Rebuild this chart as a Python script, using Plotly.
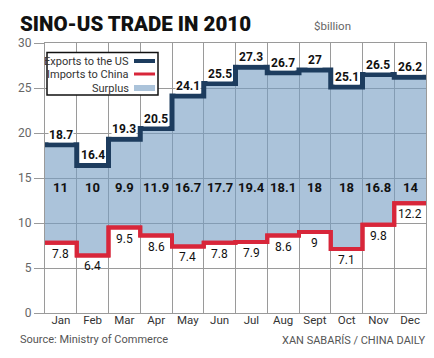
import plotly.graph_objects as go

months = ["Jan", "Feb", "Mar", "Apr", "May", "Jun", "Jul", "Aug", "Sept", "Oct", "Nov", "Dec"]
exports_us = [18.7, 16.4, 19.3, 20.5, 24.1, 25.5, 27.3, 26.7, 27, 25.1, 26.5, 26.2]
imports_cn = [7.8, 6.4, 9.5, 8.6, 7.4, 7.8, 7.9, 8.6, 9, 7.1, 9.8, 12.2]
surplus = [11, 10, 9.9, 11.9, 16.7, 17.7, 19.4, 18.1, 18, 18, 16.8, 14]
y_ticks = [0, 5, 10, 15, 20, 25, 30]

W, H = 434, 358
L, R, T, B = 45, 8, 43, 45
PW, PH = W - L - R, H - T - B

def px(x):
    return (x - L) / PW

def py(y):
    return (H - B - y) / PH

NAVY = "#1d3c5e"
RED = "#d8263a"
FILL = "rgba(120,158,196,0.62)"
GRID = "#9a9a9a"
FONT = "Roboto"

n = len(months)
xs = list(range(n + 1))
exp_y = exports_us + [exports_us[-1]]
imp_y = imports_cn + [imports_cn[-1]]

fig = go.Figure()
fig.add_trace(go.Scatter(x=xs, y=imp_y, mode="lines", line=dict(color=RED, width=4, shape="hv"),
                         name="Imports to China", showlegend=False, hoverinfo="skip"))
fig.add_trace(go.Scatter(x=xs, y=exp_y, mode="lines", line=dict(color=NAVY, width=5, shape="hv"),
                         fill="tonexty", fillcolor=FILL, name="Exports to the US",
                         showlegend=False, hoverinfo="skip"))
fig.add_trace(go.Scatter(x=xs, y=imp_y, mode="lines", line=dict(color=RED, width=4, shape="hv"),
                         showlegend=False, hoverinfo="skip"))

ann = []
for i, m in enumerate(months):
    xc = i + 0.5
    ann.append(dict(x=xc, y=exports_us[i], xref="x", yref="y", text=f"<b>{exports_us[i]:g}</b>",
                    showarrow=False, yanchor="bottom", yshift=2, bgcolor="white", borderpad=0,
                    font=dict(family=FONT, size=12, color="#111")))
    ann.append(dict(x=xc, y=imports_cn[i], xref="x", yref="y", text=f"{imports_cn[i]:g}",
                    showarrow=False, yanchor="top", yshift=-2,
                    font=dict(family=FONT, size=12, color="#111")))
    ann.append(dict(x=xc, y=14, xref="x", yref="y", text=f"<b>{surplus[i]:g}</b>",
                    showarrow=False, yanchor="middle",
                    font=dict(family=FONT, size=13, color="#111", weight=900)))

ann.append(dict(x=px(312), y=py(26), xref="paper", yref="paper", text="$billion", showarrow=False,
                xanchor="left", yanchor="middle", font=dict(family=FONT, size=11.5, color="#666")))
ann.append(dict(x=px(18), y=py(339), xref="paper", yref="paper", text="Source: Ministry of Commerce",
                showarrow=False, xanchor="left", yanchor="middle", font=dict(family=FONT, size=11, color="#555")))
ann.append(dict(x=px(427), y=py(340), xref="paper", yref="paper", text="XAN SABARÍS / CHINA DAILY",
                showarrow=False, xanchor="right", yanchor="middle", font=dict(family=FONT, size=11, color="#555")))

shapes = [dict(type="rect", xref="paper", yref="paper", x0=px(47), x1=px(158), y0=py(95), y1=py(52.5),
               line=dict(color="#111", width=1.5), fillcolor="white", layer="above")]
leg = [("Exports to the US", 61, dict(color=NAVY, width=4)),
       ("Imports to China", 74, dict(color=RED, width=3)),
       ("Surplus", 88, None)]
for label, yy, ln in leg:
    ann.append(dict(x=px(131), y=py(yy), xref="paper", yref="paper", text=label, showarrow=False,
                    xanchor="right", yanchor="middle", font=dict(family=FONT, size=11, color="#333")))
    if ln is not None:
        shapes.append(dict(type="line", xref="paper", yref="paper", x0=px(134), x1=px(155),
                           y0=py(yy), y1=py(yy), line=ln, layer="above"))
    else:
        shapes.append(dict(type="rect", xref="paper", yref="paper", x0=px(134), x1=px(155),
                           y0=py(yy + 3), y1=py(yy - 3), line=dict(width=0),
                           fillcolor="#abc3da", layer="above"))

fig.update_layout(
    width=W, height=H,
    margin=dict(l=L, r=R, t=T, b=B),
    paper_bgcolor="white", plot_bgcolor="white",
    title=dict(text="SINO-US TRADE IN 2010", xref="container", yref="container",
               x=20 / W, y=1 - 24 / H, xanchor="left", yanchor="middle",
               font=dict(family=FONT, size=20.5, color="#111", weight=900)),
    annotations=ann, shapes=shapes,
    xaxis=dict(range=[0, n], tickvals=[i + 0.5 for i in range(n)], ticktext=months,
               showgrid=False, ticks="", zeroline=False, ticklabelstandoff=-4,
               minor=dict(tickvals=xs, showgrid=True, gridcolor=GRID, gridwidth=1, ticks=""),
               showline=True, mirror=True, linecolor=GRID, linewidth=1,
               tickfont=dict(family=FONT, size=11.5, color="#333"), fixedrange=True),
    yaxis=dict(range=[0, 30], tickvals=y_ticks, showgrid=True, gridcolor=GRID, gridwidth=1,
               ticks="outside", ticklen=10, tickcolor=GRID, zeroline=False,
               showline=True, mirror=True, linecolor=GRID, linewidth=1,
               tickfont=dict(family=FONT, size=12, color="#666"), fixedrange=True),
    showlegend=False,
)

fig.write_html("out.html", config={"displayModeBar": False},
               post_script="document.body.style.margin='0';document.body.style.padding='0';")
